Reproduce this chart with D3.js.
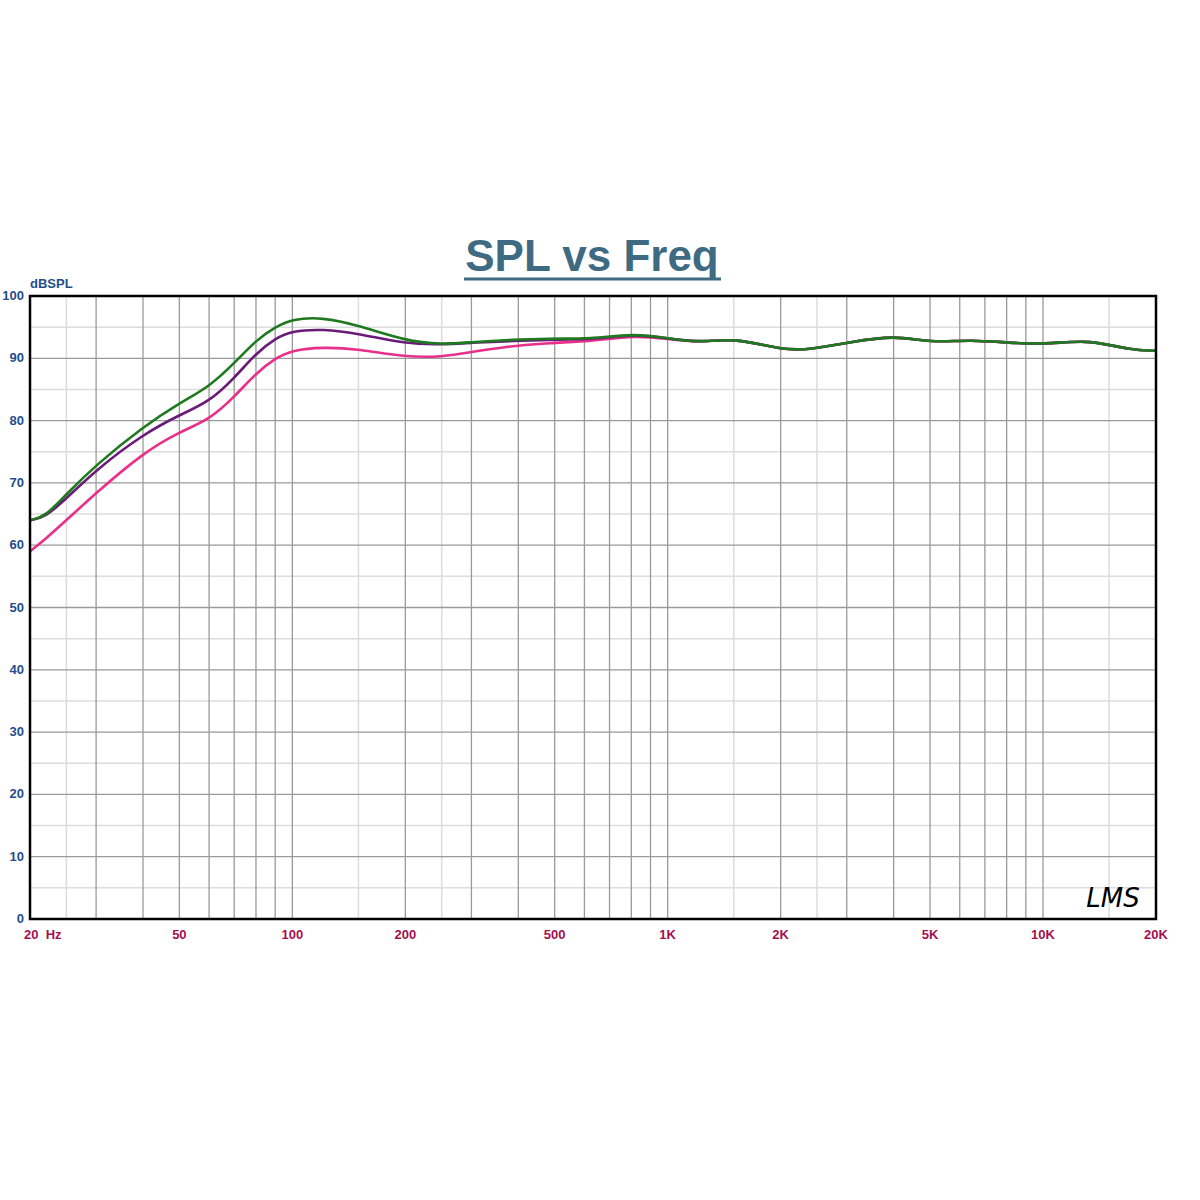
<!DOCTYPE html>
<html><head><meta charset="utf-8">
<script src="https://cdn.jsdelivr.net/npm/d3@7"></script>
<style>body{margin:0;background:#fff}</style></head>
<body><svg id="c" width="1200" height="1200"></svg>
<script>
const freqs  = [20,22,25,30,40,50,60,70,80,90,100,120,150,200,250,300,360,490,620,820,1000,1220,1510,2020,2400,3060,4040,5000,6400,8430,10450,13350,17060,20000];
const green  = [64,64.6,68.2,72.9,79,82.8,85.4,89.2,92.9,95,96.3,96.6,95.3,92.8,92.2,92.6,92.9,93.2,93.1,94,93.2,92.5,93.3,91.3,91.4,92.6,93.7,92.5,93,92.4,92.3,93,91.3,91.2];
const purple = [64,64.5,67.5,72.1,77.8,80.9,83,86.8,90.8,93.2,94.4,94.7,94,92.3,92.2,92.5,92.7,93,93,93.9,93.2,92.5,93.3,91.3,91.4,92.6,93.7,92.5,93,92.4,92.3,93,91.3,91.2];
const pink   = [59,61,64,68.4,74.8,78.2,80.1,83.8,87.6,90,91.3,91.8,91.5,90.2,90.2,91,91.8,92.5,92.7,93.7,93.1,92.5,93.3,91.3,91.4,92.6,93.7,92.5,93,92.4,92.3,93,91.3,91.2];
const yTicks = [0,10,20,30,40,50,60,70,80,90,100];
const xTicks = [[20,"20  Hz"],[50,"50"],[100,"100"],[200,"200"],[500,"500"],[1000,"1K"],[2000,"2K"],[5000,"5K"],[10000,"10K"],[20000,"20K"]];

const svg=d3.select("#c");
const L=30,R=1156,T=296,B=919;
const x=d3.scaleLog().domain([20,20000]).range([L,R]);
const y=d3.scaleLinear().domain([0,100]).range([B,T]);
const g=svg.append("g");
for(let v=5;v<100;v+=10) g.append("line").attr("x1",L).attr("x2",R).attr("y1",y(v)).attr("y2",y(v)).attr("stroke","#dcdcdc").attr("stroke-width",1.5);
[10,100,1000,10000].forEach(d=>{
  [1.5,2.5].forEach(m=>{const f=d*m; if(f>20&&f<20000) g.append("line").attr("x1",x(f)).attr("x2",x(f)).attr("y1",T).attr("y2",B).attr("stroke","#dcdcdc").attr("stroke-width",1.5);});
  for(let m=1;m<10;m++){const f=d*m; if(f>20&&f<20000) g.append("line").attr("x1",x(f)).attr("x2",x(f)).attr("y1",T).attr("y2",B).attr("stroke","#9a9a9a").attr("stroke-width",1.3);}
});
yTicks.forEach(v=>{ if(v>0&&v<100) g.append("line").attr("x1",L).attr("x2",R).attr("y1",y(v)).attr("y2",y(v)).attr("stroke","#9a9a9a").attr("stroke-width",1.3);});
const line=d3.line().x(d=>x(d[0])).y(d=>y(d[1])).curve(d3.curveBasis);
[[pink,"#e8308a"],[purple,"#6a1b7a"],[green,"#1f7a1f"]].forEach(([s,c])=>{
  svg.append("path").datum(freqs.map((f,i)=>[f,s[i]])).attr("d",line).attr("fill","none").attr("stroke",c).attr("stroke-width",2.6);
});
svg.append("rect").attr("x",L).attr("y",T).attr("width",R-L).attr("height",B-T).attr("fill","none").attr("stroke","#000").attr("stroke-width",2.5);
yTicks.forEach(v=>svg.append("text").attr("x",L-6).attr("y",y(v)+4).attr("text-anchor","end").attr("font-family","Liberation Sans, Arial").attr("font-weight","bold").attr("font-size",13).attr("fill","#1f4e8a").text(v));
svg.append("text").attr("x",L).attr("y",288).attr("font-family","Liberation Sans, Arial").attr("font-weight","bold").attr("font-size",13).attr("fill","#1f4e8a").text("dBSPL");
xTicks.forEach(([f,t],i)=>svg.append("text").attr("x",i==0?L-6:x(f)).attr("y",939).attr("text-anchor",i==0?"start":"middle").attr("font-family","Liberation Sans, Arial").attr("font-weight","bold").attr("font-size",13).attr("fill","#a3104f").attr("xml:space","preserve").text(t));
svg.append("text").attr("x",592).attr("y",271).attr("text-anchor","middle").attr("font-family","Liberation Sans, Arial").attr("font-weight","bold").attr("font-size",44).attr("fill","#3f6b82").text("SPL vs Freq");
svg.append("line").attr("x1",464).attr("x2",721).attr("y1",279).attr("y2",279).attr("stroke","#3f6b82").attr("stroke-width",3);
svg.append("text").attr("x",1113).attr("y",907).attr("text-anchor","middle").attr("font-family","DejaVu Sans").attr("font-style","italic").attr("font-size",26).attr("fill","#000").text("LMS");
</script></body></html>
